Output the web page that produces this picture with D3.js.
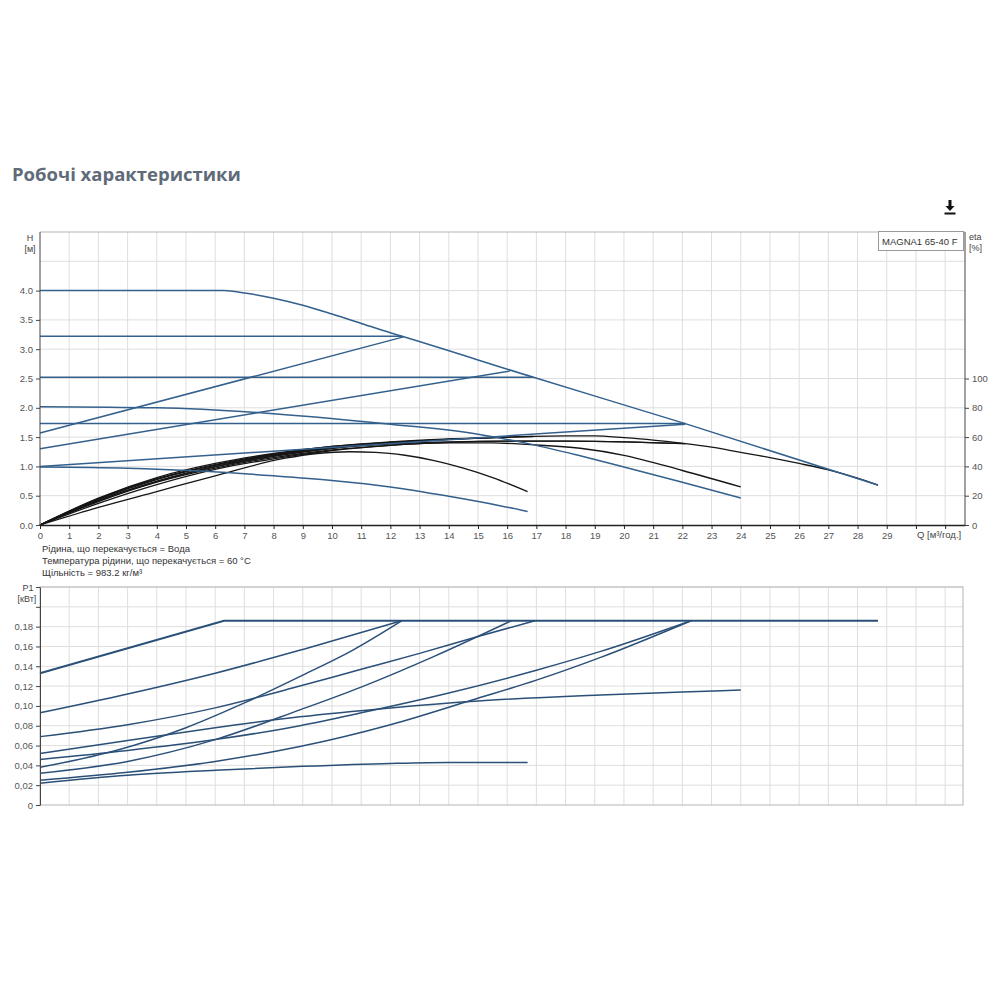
<!DOCTYPE html>
<html><head><meta charset="utf-8">
<script src="https://cdn.jsdelivr.net/npm/d3@7"></script>
<style>body{margin:0;background:#fff} svg{display:block}</style>
</head><body>
<svg id="c" width="1000" height="1000"></svg>
<script>
// ---------- tick values / labels ----------
const qTicks = d3.range(0, 32);
const qTickLabelMax = 29;
const hTicks = [0, 0.5, 1.0, 1.5, 2.0, 2.5, 3.0, 3.5, 4.0];
const etaTicks = [0, 20, 40, 60, 80, 100];
const p1Ticks = [0, 0.02, 0.04, 0.06, 0.08, 0.10, 0.12, 0.14, 0.16, 0.18];
const p1ExtraTicks = [0.20, 0.22];

// ---------- H(Q) curves [m] ----------
const qMaxCurve = [0, 6.3, 7, 8, 9, 10, 11, 12, 12.4, 16.9, 22.1, 28.7];
const hMaxCurve = [4.0, 4.0, 3.96, 3.87, 3.75, 3.6, 3.44, 3.28, 3.22, 2.52, 1.73, 0.68];
const qCp322 = [0, 12.4];  const hCp322 = [3.22, 3.22];
const qCp252 = [0, 16.9];  const hCp252 = [2.52, 2.52];
const qCp173 = [0, 22.1];  const hCp173 = [1.73, 1.73];
const qPp157 = [0, 12.45]; const hPp157 = [1.57, 3.21];
const qPp130 = [0, 16.1];  const hPp130 = [1.30, 2.63];
const qPp100 = [0, 22.1];  const hPp100 = [1.00, 1.72];
const qC202 = [0, 4, 8, 12, 15, 16.8, 18.5, 20, 22, 24];
const hC202 = [2.02, 2.0, 1.9, 1.72, 1.55, 1.38, 1.18, 0.99, 0.73, 0.46];
const qLow = [0, 3, 5.5, 8, 10, 12, 14, 15.75, 16.7];
const hLow = [0.99, 0.97, 0.92, 0.84, 0.76, 0.65, 0.49, 0.33, 0.23];

// ---------- efficiency curves [%] ----------
const qEffMax = [0, 2, 4, 6, 8, 10, 12, 14, 16, 18, 19, 20, 21, 22.1, 23, 24, 25, 26, 27, 28, 28.7];
const eEffMax = [0, 17.6, 31.2, 40.8, 48, 53.2, 56.4, 58.4, 60, 60.8, 60.8, 59.6, 58, 55.6, 53.2, 49.6, 46, 42, 37.6, 32, 27.2];
const qEffC202 = [0, 2, 4, 6, 8, 10, 12, 14, 15.5, 16.8, 18.5, 20, 22, 24];
const eEffC202 = [0, 16, 29.2, 38.8, 46, 51.2, 54.4, 56, 56, 54.8, 52.4, 47.6, 37.2, 26];
const qEffLow = [0, 2, 4, 6, 8.4, 9.5, 10.6, 11.5, 12.5, 13.5, 14.5, 15.5, 16.7];
const eEffLow = [0, 12, 22.8, 33.6, 45.6, 48.8, 50, 49.6, 47.6, 44, 38.8, 32.4, 22.8];
const qEffCp322 = [0, 2, 4, 6, 8, 10, 12.4];
const eEffCp322 = [0, 18.4, 32.4, 42, 48.8, 53.6, 56.8];
const qEffPp157 = [0, 2, 4, 6, 8, 10, 12.45];
const eEffPp157 = [0, 16.8, 30, 40, 47.2, 52.8, 56.8];
const qEffCp252 = [0, 2, 4, 6, 8, 10, 12, 14, 16.9];
const eEffCp252 = [0, 18, 31.6, 41.2, 48.4, 53.6, 56.8, 58.8, 60.4];
const qEffPp130 = [0, 2, 4, 6, 8, 10, 12, 14, 16.1];
const eEffPp130 = [0, 16.4, 29.6, 39.6, 46.8, 52.4, 56, 58.4, 60];
const qEffCp173 = [0, 2, 4, 6, 8, 10, 12, 14, 16, 18, 20, 22.1];
const eEffCp173 = [0, 17.6, 31.2, 40.8, 47.6, 52.4, 55.2, 56.8, 57.2, 57.2, 56.8, 55.6];
const qEffPp100 = [0, 2, 4, 6, 8, 10, 12, 14, 16, 18, 20, 22.1];
const eEffPp100 = [0, 14.8, 27.6, 38, 45.2, 50.8, 54.4, 56.4, 57.2, 57.2, 56.8, 55.6];

// ---------- P1 curves [kW] ----------
const qP1Max = [0, 6.3, 28.7];            const pP1Max = [0.133, 0.186, 0.186];
const qP1Cp322 = [0, 3, 6, 9, 12.4];      const pP1Cp322 = [0.093, 0.112, 0.133, 0.157, 0.186];
const qP1Pp157 = [0, 2.6, 5, 7, 9, 10.7, 12.4]; const pP1Pp157 = [0.038, 0.055, 0.078, 0.103, 0.131, 0.156, 0.186];
const qP1Cp252 = [0, 3, 6, 8.9, 11, 13, 15, 16.95]; const pP1Cp252 = [0.069, 0.081, 0.098, 0.120, 0.137, 0.153, 0.170, 0.186];
const qP1Pp130 = [0, 3, 6, 8.9, 11, 13.5, 16.15]; const pP1Pp130 = [0.032, 0.044, 0.066, 0.096, 0.119, 0.150, 0.186];
const qP1C202 = [0, 3, 6, 8.9, 12, 15, 19.2, 22, 24]; const pP1C202 = [0.052, 0.065, 0.078, 0.089, 0.098, 0.105, 0.111, 0.114, 0.116];
const qP1Cp173 = [0, 3, 6, 8.9, 11, 14, 17, 19.2, 22.3]; const pP1Cp173 = [0.046, 0.055, 0.066, 0.080, 0.093, 0.113, 0.136, 0.155, 0.186];
const qP1Pp100 = [0, 3, 6, 8.9, 12, 14.8, 17, 19.2, 22.3]; const pP1Pp100 = [0.025, 0.033, 0.044, 0.059, 0.081, 0.106, 0.126, 0.149, 0.186];
const qP1Low = [0, 3, 6, 9, 12, 14, 16.7]; const pP1Low = [0.022, 0.030, 0.035, 0.039, 0.042, 0.043, 0.043];

// ---------- texts ----------
const titleText = "Робочі характеристики";
const legendText = "MAGNA1 65-40 F";
const infoLines = ["Рідина, що перекачується = Вода", "Температура рідини, що перекачується = 60 °C", "Щільність = 983.2 кг/м³"];

// ---------- drawing ----------
const FONT = "'Liberation Sans', Arial, sans-serif";
const svg = d3.select("#c").style("font-family", FONT);
const zip = (a, b) => a.map((v, i) => [v, b[i]]);

const x = d3.scaleLinear().domain([0, 31.68]).range([40, 965]);
const yH = d3.scaleLinear().domain([0, 5]).range([525, 232]);
const yEta = d3.scaleLinear().domain([0, 200]).range([525, 232]);
const yP = d3.scaleLinear().domain([0, 0.22]).range([805, 587]);

const GRID = "#dedede";

// title
svg.append("text").attr("x", 12).attr("y", 181).text(titleText)
  .attr("font-family", "'Open Sans', 'DejaVu Sans', sans-serif").attr("font-weight", "bold")
  .attr("font-size", 18.5).attr("fill", "#5f6b79");

// download icon
const ic = svg.append("g").attr("transform", "translate(950,208)").attr("fill", "#111");
ic.append("path").attr("d", "M-1.5,-8 L1.5,-8 L1.5,-2 L4.5,-2 L0,3 L-4.5,-2 L-1.5,-2 Z");
ic.append("rect").attr("x", -5.5).attr("y", 4.5).attr("width", 11).attr("height", 2);

// ---------- top chart ----------
const topG = svg.append("g");
topG.append("g").selectAll("line").data(qTicks.slice(1)).join("line")
  .attr("x1", d => x(d)).attr("x2", d => x(d)).attr("y1", yH(5)).attr("y2", yH(0))
  .attr("stroke", GRID).attr("stroke-width", 1);
topG.append("g").selectAll("line").data(d3.range(0.5, 5.01, 0.5)).join("line")
  .attr("x1", x(0)).attr("x2", x.range()[1]).attr("y1", d => yH(d)).attr("y2", d => yH(d))
  .attr("stroke", d => d >= 5 ? "#b5b5b5" : GRID).attr("stroke-width", 1);

const pickCurve = n => n <= 3 ? d3.curveLinear : d3.curveMonotoneX;
const mkLine = (ys, n) => d3.line().x(d => x(d[0])).y(d => ys(d[1])).curve(pickCurve(n));

const BLUE = "#33608c";
const BLACK = "#161616";

const hSeries = [
  [qCp322, hCp322], [qCp252, hCp252], [qCp173, hCp173],
  [qPp157, hPp157], [qPp130, hPp130], [qPp100, hPp100],
  [qC202, hC202], [qLow, hLow], [qMaxCurve, hMaxCurve]
];
const effSeries = [
  [qEffLow, eEffLow], [qEffC202, eEffC202], [qEffCp322, eEffCp322], [qEffPp157, eEffPp157],
  [qEffCp252, eEffCp252], [qEffPp130, eEffPp130], [qEffCp173, eEffCp173], [qEffPp100, eEffPp100],
  [qEffMax, eEffMax]
];
topG.append("g").selectAll("path").data(effSeries).join("path")
  .attr("d", d => mkLine(yEta, d[0].length)(zip(d[0], d[1]))).attr("fill", "none")
  .attr("stroke", BLACK).attr("stroke-width", 1.3);
topG.append("g").selectAll("path").data(hSeries).join("path")
  .attr("d", d => mkLine(yH, d[0].length)(zip(d[0], d[1]))).attr("fill", "none")
  .attr("stroke", BLUE).attr("stroke-width", 1.5);

function styleAxis(g, col) {
  g.selectAll(".domain").attr("stroke", col);
  g.selectAll(".tick line").attr("stroke", col);
  g.selectAll(".tick text").attr("fill", "#555").attr("font-size", 9.5).attr("font-family", FONT);
}
const axL = topG.append("g").attr("transform", `translate(${x(0)},0)`)
  .call(d3.axisLeft(yH).tickValues(hTicks).tickFormat(d3.format(".1f")).tickSize(4).tickSizeOuter(0));
styleAxis(axL, "#444");
const axB = topG.append("g").attr("transform", `translate(0,${yH(0)})`)
  .call(d3.axisBottom(x).tickValues(qTicks).tickFormat(d => d <= qTickLabelMax ? d : "").tickSize(4).tickSizeOuter(0));
styleAxis(axB, "#222");
axB.select(".domain").attr("stroke-width", 1.4);
const axR = topG.append("g").attr("transform", `translate(${x.range()[1]},0)`)
  .call(d3.axisRight(yEta).tickValues(etaTicks).tickSize(4).tickSizeOuter(0));
styleAxis(axR, "#444");
axR.select(".domain").attr("d", `M0,${yH(5)}V${yH(0)}`);
axL.select(".domain").attr("d", `M0,${yH(5)}V${yH(0)}`);

const lab = (t, xx, yy, anchor = "middle", sz = 9) => svg.append("text").attr("x", xx).attr("y", yy)
  .attr("text-anchor", anchor).attr("font-size", sz).attr("fill", "#444").text(t);
lab("H", 30, 241); lab("[м]", 30, 252);
lab("eta", 969, 240, "start"); lab("[%]", 969, 251, "start");
lab("Q [м³/год.]", 917, 538, "start", 9.5);

svg.append("rect").attr("x", 878.5).attr("y", 231.5).attr("width", 85).attr("height", 19)
  .attr("fill", "#fff").attr("stroke", "#9a9a9a");
svg.append("text").attr("x", 882).attr("y", 244.5).attr("font-size", 9.5).attr("fill", "#333").text(legendText);

svg.append("g").selectAll("text").data(infoLines).join("text")
  .attr("x", 42).attr("y", (d, i) => 552 + i * 12).attr("font-size", 9.5).attr("fill", "#333").text(d => d);

// ---------- bottom chart ----------
const botG = svg.append("g");
botG.append("g").selectAll("line").data(qTicks.slice(1)).join("line")
  .attr("x1", d => x(d)).attr("x2", d => x(d)).attr("y1", yP(0.22)).attr("y2", yP(0))
  .attr("stroke", GRID);
botG.append("g").selectAll("line").data(p1Ticks.slice(1).concat(p1ExtraTicks)).join("line")
  .attr("x1", x(0)).attr("x2", 963).attr("y1", d => yP(d)).attr("y2", d => yP(d))
  .attr("stroke", GRID);
botG.append("rect").attr("x", x(0)).attr("y", yP(0.22)).attr("width", 963 - x(0)).attr("height", yP(0) - yP(0.22))
  .attr("fill", "none").attr("stroke", "#b5b5b5");

const pSeries = [
  [qP1Low, pP1Low], [qP1Pp100, pP1Pp100], [qP1Cp173, pP1Cp173], [qP1C202, pP1C202],
  [qP1Pp130, pP1Pp130], [qP1Cp252, pP1Cp252], [qP1Pp157, pP1Pp157], [qP1Cp322, pP1Cp322],
  [qP1Max, pP1Max]
];
botG.append("g").selectAll("path").data(pSeries).join("path")
  .attr("d", d => mkLine(yP, d[0].length)(zip(d[0], d[1]))).attr("fill", "none")
  .attr("stroke", "#2b5078").attr("stroke-width", (d, i) => i === pSeries.length - 1 ? 2 : 1.5);

const axP = botG.append("g").attr("transform", `translate(${x(0)},0)`)
  .call(d3.axisLeft(yP).tickValues(p1Ticks.concat(p1ExtraTicks))
    .tickFormat(d => d > 0.19 ? "" : (d === 0 ? "0" : d3.format(".2f")(d).replace(".", ",")))
    .tickSize(4).tickSizeOuter(0));
styleAxis(axP, "#444");
lab("P1", 28, 591); lab("[кВт]", 27, 602);
</script>
</body></html>
